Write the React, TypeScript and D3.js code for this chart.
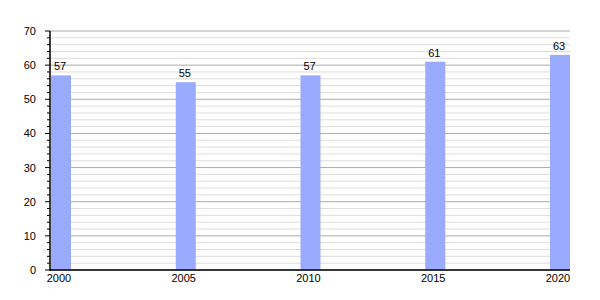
import React from "react";
import * as d3 from "d3";

const years = ["2000", "2005", "2010", "2015", "2020"];
const values = [57, 55, 57, 61, 63];
const yMajorTicks = [0, 10, 20, 30, 40, 50, 60, 70];

export default function App() {
  const W = 600, H = 300;
  const left = 50, right = 570, top = 31, bottom = 270;
  const barW = 20;
  const y = d3.scaleLinear().domain([0, 70]).range([bottom, top]);
  const x = d3.scalePoint<string>().domain(years).range([left + 1, right - barW]);
  const minor = d3.range(0, 71, 2).filter((v) => v % 10 !== 0);
  const font = "'Liberation Sans', Arial, sans-serif";
  return (
    <svg width={W} height={H} style={{ position: "absolute", left: 0, top: 0 }} fontFamily={font}>
      <rect width={W} height={H} fill="#fff" />
      {minor.map((v) => (
        <line key={"m" + v} x1={left} x2={right} y1={y(v)} y2={y(v)} stroke="#dddddd" strokeWidth={1} />
      ))}
      {yMajorTicks.map((v) => (
        <line key={"g" + v} x1={left} x2={right} y1={y(v)} y2={y(v)} stroke="#aaaaaa" strokeWidth={1} />
      ))}
      {years.map((yr, i) => (
        <g key={yr}>
          <rect x={x(yr)!} y={y(values[i])} width={barW} height={bottom - y(values[i])} fill="#99aaff" />
          <text x={x(yr)! + barW / 2 - 1} y={y(values[i]) - 5} textAnchor="middle" fontSize={11} fill="#000">
            {values[i]}
          </text>
          <text x={x(yr)! + barW / 2 - 2} y={282} textAnchor="middle" fontSize={11} fill="#000">
            {yr}
          </text>
        </g>
      ))}
      {minor.map((v) => (
        <line key={"mt" + v} x1={left - 3} x2={left} y1={y(v)} y2={y(v)} stroke="#000" strokeWidth={1} />
      ))}
      {yMajorTicks.map((v) => (
        <g key={"t" + v}>
          <line x1={left - 5} x2={left} y1={y(v)} y2={y(v)} stroke="#000" strokeWidth={1} />
          <text x={36} y={y(v) + 4} textAnchor="end" fontSize={11} fill="#000">
            {v}
          </text>
        </g>
      ))}
      <line x1={left} x2={left} y1={top} y2={bottom + 1} stroke="#000" strokeWidth={1.5} />
      <line x1={left} x2={right} y1={bottom} y2={bottom} stroke="#000" strokeWidth={1.5} />
    </svg>
  );
}
